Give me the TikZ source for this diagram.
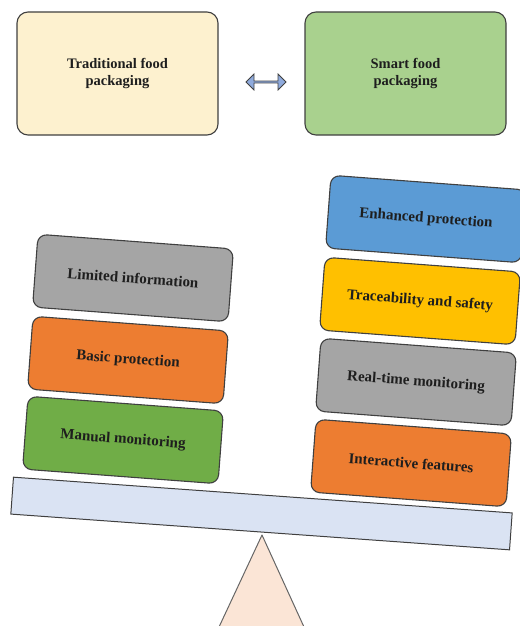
\documentclass[tikz,border=0pt]{standalone}
\usepackage{fontspec}
\setmainfont{Liberation Serif}
\usetikzlibrary{shapes.arrows}
\definecolor{cream}{HTML}{FDF1CF}
\definecolor{smartgreen}{HTML}{A9D18E}
\definecolor{boxgray}{HTML}{A5A5A5}
\definecolor{boxorange}{HTML}{ED7D31}
\definecolor{boxgreen}{HTML}{70AD47}
\definecolor{boxblue}{HTML}{5B9BD5}
\definecolor{boxgold}{HTML}{FFC000}
\definecolor{beamblue}{HTML}{DAE3F3}
\definecolor{peach}{HTML}{FBE5D6}
\definecolor{arrowblue}{HTML}{8FAADC}
\definecolor{edge}{HTML}{404040}
\definecolor{txt}{HTML}{1E1E1E}
\tikzset{
  headbox/.style={draw=edge, line width=1.1pt, rounded corners=11pt, minimum width=201pt, minimum height=123pt, align=center, font=\fontsize{14.5}{17}\selectfont\bfseries, text=txt},
  stackbox/.style={draw=edge, line width=1.1pt, rounded corners=9pt, minimum width=196pt, minimum height=73pt, rotate=-4.3, font=\fontsize{15}{17}\selectfont\bfseries, text=txt, inner sep=0pt},
}
\begin{document}
\begin{tikzpicture}[x=1pt,y=-1pt]
\useasboundingbox (0,0) rectangle (519,626);
% header
\node[headbox, fill=cream] (trad) at (117.5,73.5) {Traditional food\\packaging};
\node[headbox, fill=smartgreen] (smart) at (405.5,73.5) {Smart food\\packaging};
\node[double arrow, draw=edge, fill=arrowblue, line width=0.8pt, minimum width=16pt, minimum height=40pt, double arrow head extend=3pt, inner sep=0pt] (arr) at (266,82) {};
% beam and fulcrum
\node[draw=edge, fill=beamblue, line width=1pt, rotate=-4.1, minimum width=500pt, minimum height=37pt, inner sep=0pt] (beam) at (261.5,513.5) {};
\coordinate (apex) at (262,535);
\coordinate (bl) at (219,627);
\coordinate (br) at (304,627);
\draw[draw=edge!80, fill=peach, line width=1pt, line join=round] (apex) -- (br) -- (bl) -- cycle;
% left stack
\node[stackbox, fill=boxgray] (lim) at (133,278) {Limited information};
\node[stackbox, fill=boxorange] (basic) at (128,360) {Basic protection};
\node[stackbox, fill=boxgreen] (man) at (123,440) {Manual monitoring};
% right stack
\node[stackbox, fill=boxblue] (enh) at (426,219) {Enhanced protection};
\node[stackbox, fill=boxgold] (trace) at (420,301) {Traceability and safety};
\node[stackbox, fill=boxgray] (real) at (416,382) {Real-time monitoring};
\node[stackbox, fill=boxorange] (inter) at (411,463) {Interactive features};
\end{tikzpicture}
\end{document}
